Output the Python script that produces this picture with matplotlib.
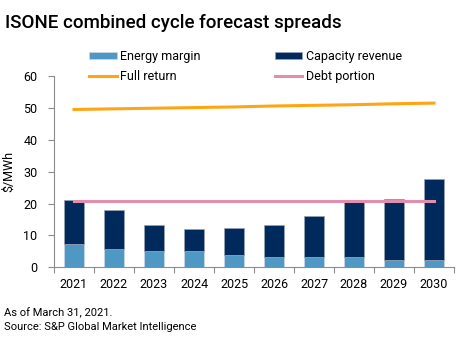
import matplotlib.pyplot as plt
import numpy as np

plt.rcParams['font.family'] = ['Roboto', 'DejaVu Sans']

years = ['2021', '2022', '2023', '2024', '2025', '2026', '2027', '2028', '2029', '2030']
energy_margin = [7.2, 5.8, 5.2, 5.2, 3.9, 3.3, 3.1, 3.3, 2.4, 2.4]
capacity_revenue = [13.9, 12.1, 8.0, 6.7, 8.3, 9.9, 12.9, 17.3, 18.9, 25.2]
full_return = [49.5, 49.7, 49.9, 50.1, 50.3, 50.6, 50.8, 51.0, 51.3, 51.5]
debt_portion = [20.9, 20.9, 20.9, 20.9, 20.9, 20.9, 20.9, 20.9, 20.9, 20.9]

c_energy = '#4f98c4'
c_capacity = '#002a5c'
c_full = '#ffa514'
c_debt = '#e28eac'
grey = '#8c8c8c'

fig = plt.figure(figsize=(4.72, 3.43), dpi=100)
ax = fig.add_axes([0.1144, 0.2207, 0.8475, 0.5577])

x = np.arange(len(years))
b1 = ax.bar(x, energy_margin, width=0.5, color=c_energy, edgecolor='#c9d9e6',
            linewidth=0.5, label='Energy margin')
b2 = ax.bar(x, capacity_revenue, width=0.5, bottom=energy_margin, color=c_capacity,
            edgecolor='#9aa3b5', linewidth=0.5, label='Capacity revenue')
l1, = ax.plot(x, full_return, color=c_full, lw=2.2, label='Full return')
l2, = ax.plot(x, debt_portion, color=c_debt, lw=2.2, label='Debt portion')

ax.set_xlim(-0.5, len(years) - 0.5)
ax.set_ylim(0, 60)
ax.set_yticks(range(0, 61, 10))
ax.set_xticks(x)
ax.set_xticklabels(years)
ax.set_xticks(np.arange(-0.5, len(years)), minor=True)
ax.tick_params(axis='x', which='major', length=0, pad=8, labelsize=9)
ax.tick_params(axis='x', which='minor', length=4, color=grey, width=0.8)
ax.tick_params(axis='y', length=4, color=grey, width=0.8, labelsize=9, pad=8)
for s in ['top', 'right']:
    ax.spines[s].set_visible(False)
for s in ['left', 'bottom']:
    ax.spines[s].set_color(grey)
    ax.spines[s].set_linewidth(0.8)
ax.set_ylabel('$/MWh', fontsize=9, labelpad=6)

# legend fills column by column: bars on the top row, lines below
fig.legend([b1, l1, b2, l2],
           ['Energy margin', 'Full return', 'Capacity revenue', 'Debt portion'],
           ncol=2, loc='upper left', bbox_to_anchor=(0.165, 0.888), frameon=False,
           fontsize=9, handlelength=2.2, handleheight=0.5, columnspacing=5.9,
           labelspacing=0.55, handletextpad=0.3)

fig.text(0.01, 0.932, 'ISONE combined cycle forecast spreads', fontsize=13.5,
         fontweight='medium', va='center')
fig.text(0.008, 0.087, 'As of March 31, 2021.', fontsize=8, va='center')
fig.text(0.008, 0.048, 'Source: S&P Global Market Intelligence', fontsize=8, va='center')

fig.savefig('out.png', dpi=100)
